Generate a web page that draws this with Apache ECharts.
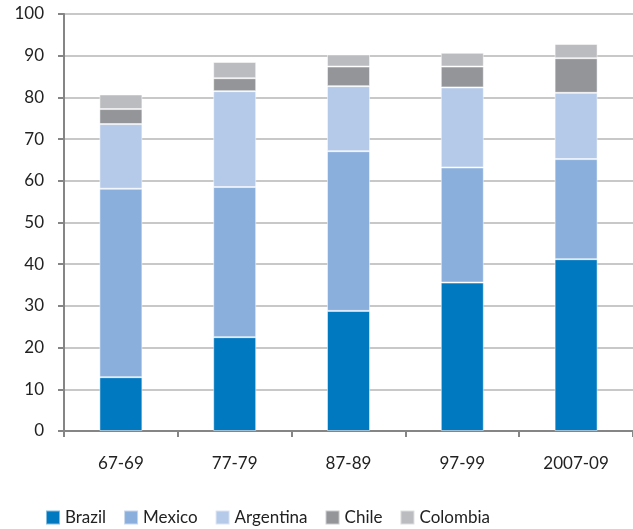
<!DOCTYPE html>
<html>
<head>
<meta charset="utf-8">
<script src="https://cdn.jsdelivr.net/npm/echarts@6/dist/echarts.min.js"></script>
<style>
  html, body { margin: 0; padding: 0; background: #fff; }
  #chart { width: 633px; height: 529px; }
</style>
</head>
<body>
<div id="chart"></div>
<script>
var periods = ['67-69', '77-79', '87-89', '97-99', '2007-09'];
var brazil = [12.9, 22.5, 28.8, 35.6, 41.2];
var mexico = [45.2, 36.0, 38.3, 27.6, 24.0];
var argentina = [15.5, 23.0, 15.6, 19.2, 15.9];
var chile = [3.6, 3.1, 4.7, 5.0, 8.3];
var colombia = [3.5, 3.9, 2.9, 3.3, 3.4];

var font = 'Lato, "Open Sans", sans-serif';

function bar(name, data, color) {
	return {
		name: name,
		type: 'bar',
		stack: 'total',
		barWidth: 43,
		data: data,
		itemStyle: { color: color, borderColor: 'rgba(255,255,255,0.5)', borderWidth: 1 }
	};
}

var myChart = echarts.init(document.getElementById('chart'));
var option = {
	animation: false,
	textStyle: { fontFamily: font },
	grid: { left: 64, right: 0, top: 14, bottom: 98, containLabel: false },
	legend: {
		left: 40,
		top: 504,
		itemWidth: 14,
		itemHeight: 14,
		itemGap: 17,
		icon: 'rect',
		textStyle: { fontFamily: font, fontSize: 17, color: '#222' },
		data: ['Brazil', 'Mexico', 'Argentina', 'Chile', 'Colombia']
	},
	xAxis: {
		type: 'category',
		data: periods,
		axisLine: { lineStyle: { color: '#858585', width: 2 } },
		axisTick: { show: true, length: 6, lineStyle: { color: '#858585', width: 2 } },
		axisLabel: { fontFamily: font, fontSize: 17, color: '#222', margin: 24 }
	},
	yAxis: {
		type: 'value',
		min: 0,
		max: 100,
		interval: 10,
		axisLine: { show: true, lineStyle: { color: '#858585', width: 2 } },
		axisTick: { show: true, length: 6, lineStyle: { color: '#858585', width: 2 } },
		axisLabel: { fontFamily: font, fontSize: 17, color: '#222', margin: 20 },
		splitLine: { lineStyle: { color: '#c8c8c8', width: 2 } }
	},
	series: [
		bar('Brazil', brazil, '#0079c1'),
		bar('Mexico', mexico, '#8aafdc'),
		bar('Argentina', argentina, '#b5cae8'),
		bar('Chile', chile, '#939598'),
		bar('Colombia', colombia, '#bbbcbf')
	]
};
myChart.setOption(option);
</script>
</body>
</html>
